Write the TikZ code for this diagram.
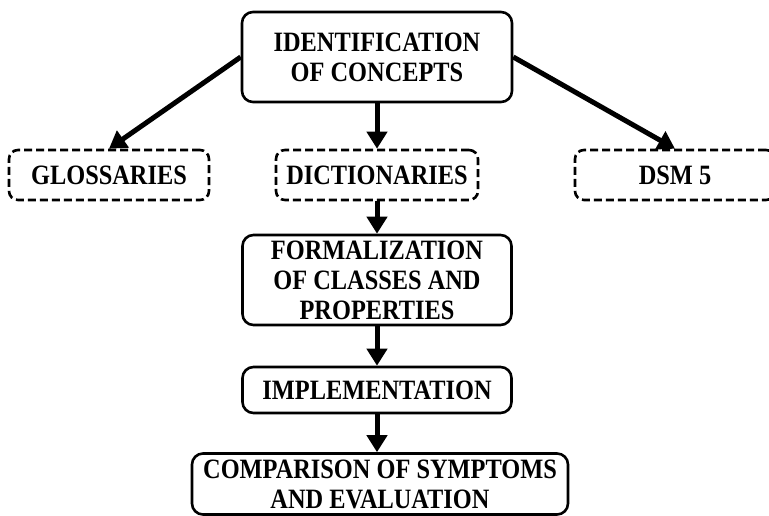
\documentclass[tikz,border=0pt]{standalone}
\usepackage{fontspec}
\setmainfont{Liberation Serif}[FakeStretch=0.87]
\usetikzlibrary{arrows.meta}
\begin{document}
\begin{tikzpicture}[x=1pt,y=-1pt,
  solidbox/.style={draw=black,line width=2.6pt,rounded corners=11pt,fill=white,
    align=center,inner sep=0pt,font=\fontsize{28}{30}\selectfont\bfseries},
  dashbox/.style={draw=black,line width=2.6pt,rounded corners=9pt,
    dash pattern=on 8pt off 4pt,align=center,inner sep=0pt,
    minimum height=50pt,minimum width=200pt,font=\fontsize{28}{30}\selectfont\bfseries},
  flow/.style={line width=5pt,-{Triangle[length=17pt,width=20pt]}}
]
\useasboundingbox (0,0) rectangle (769,516);
\clip (0,0) rectangle (769,516);
\fill[white] (0,0) rectangle (769,516);

\node[solidbox,minimum width=270pt,minimum height=90pt] (top) at (377,57) {IDENTIFICATION\\OF CONCEPTS};
\node[dashbox] (glos) at (109,175) {GLOSSARIES};
\node[dashbox,minimum width=202pt] (dict) at (377,175) {DICTIONARIES};
\node[dashbox] (dsm) at (675,175) {DSM 5};
\node[solidbox,minimum width=269pt,minimum height=90pt] (form) at (377,280) {FORMALIZATION\\OF CLASSES AND\\PROPERTIES};
\node[solidbox,minimum width=269pt,minimum height=46pt] (impl) at (377,390) {IMPLEMENTATION};
\node[solidbox,minimum width=376pt,minimum height=61pt] (comp) at (380,484) {COMPARISON OF SYMPTOMS\\AND EVALUATION};

\draw[flow] (top.west) -- (glos.north);
\draw[flow] (top.east) -- (dsm.north);
\draw[flow] (top.south) -- (dict.north);
\draw[flow] (dict.south) -- (form.north);
\draw[flow] (form.south) -- (impl.north);
\draw[flow] (impl.south) -- (comp.north -| impl.south);
\end{tikzpicture}
\end{document}
